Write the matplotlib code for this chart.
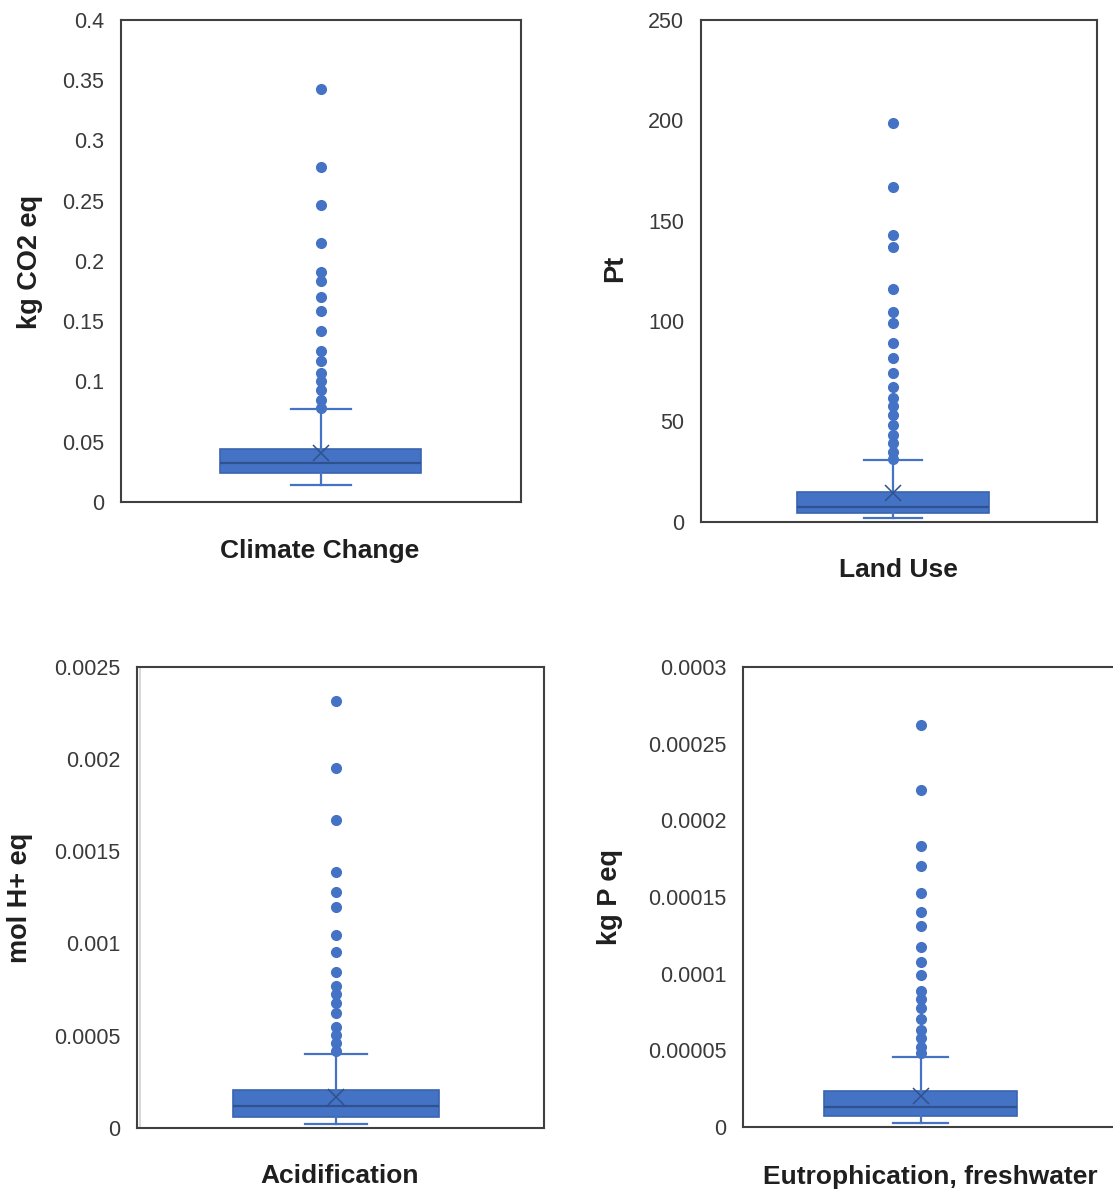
import matplotlib
matplotlib.use("Agg")
import matplotlib.pyplot as plt
from matplotlib.lines import Line2D

plt.rcParams['font.family'] = ['Liberation Sans', 'DejaVu Sans']

# ---- data: box statistics per impact category ----
categories = ["Climate Change", "Land Use", "Acidification", "Eutrophication, freshwater"]
units = ["kg CO2 eq", "Pt", "mol H+ eq", "kg P eq"]

cc_stats = dict(whislo=0.0141, q1=0.0238, med=0.0321, q3=0.0440, whishi=0.0772, mean=0.0404)
cc_fliers = [0.3425, 0.2778, 0.2462, 0.2147, 0.1906, 0.1837, 0.1699, 0.1588, 0.1419,
             0.1255, 0.1170, 0.1073, 0.1007, 0.0929, 0.0846, 0.0778]

lu_stats = dict(whislo=2.0, q1=4.5, med=7.5, q3=14.7, whishi=30.7, mean=14.2)
lu_fliers = [198.5, 166.6, 143.0, 137.0, 116.1, 104.5, 99.2, 89.2, 81.4, 74.2, 67.0,
             61.8, 57.7, 53.2, 48.2, 43.2, 39.1, 34.9, 31.1]

ac_stats = dict(whislo=0.0000201, q1=0.0000597, med=0.000118, q3=0.000205,
                whishi=0.000398, mean=0.000165)
ac_fliers = [0.002317, 0.001950, 0.001670, 0.001389, 0.001281, 0.001196, 0.001044,
             0.000955, 0.000847, 0.000769, 0.000726, 0.000678, 0.000624, 0.000548,
             0.000503, 0.000458, 0.000416]

eu_stats = dict(whislo=0.0000028, q1=0.0000074, med=0.0000128, q3=0.0000235,
                whishi=0.0000454, mean=0.0000202)
eu_fliers = [0.0002625, 0.0002196, 0.0001831, 0.0001703, 0.0001523, 0.0001403,
             0.0001310, 0.0001171, 0.0001077, 0.0000989, 0.0000888, 0.0000832,
             0.0000774, 0.0000702, 0.0000632, 0.0000578, 0.0000523, 0.0000480]

cc_ticks = ["0", "0.05", "0.1", "0.15", "0.2", "0.25", "0.3", "0.35", "0.4"]
lu_ticks = ["0", "50", "100", "150", "200", "250"]
ac_ticks = ["0", "0.0005", "0.001", "0.0015", "0.002", "0.0025"]
eu_ticks = ["0", "0.00005", "0.0001", "0.00015", "0.0002", "0.00025", "0.0003"]

# ---- layout (pixels) ----
W, H = 1113, 1193
BLUE = "#4472C4"
DARK_BLUE = "#2F528F"
FRAME = "#404040"

panels = [
    # stats, fliers, ticks, axes rect (l, t, r, b), box center, box width, cap width,
    # xlabel (x, y), ylabel (x, y)
    dict(stats=cc_stats, fliers=cc_fliers, ticks=cc_ticks, rect=(121, 20, 521, 502),
         c=320.5, bw=200.5, cw=60, xl=(320, 551), yl=(30, 262)),
    dict(stats=lu_stats, fliers=lu_fliers, ticks=lu_ticks, rect=(701, 20, 1097, 521.7),
         c=893, bw=192.6, cw=58.7, xl=(898, 570), yl=(615, 268)),
    dict(stats=ac_stats, fliers=ac_fliers, ticks=ac_ticks, rect=(137, 667, 544, 1127.7),
         c=335.7, bw=206, cw=61.7, xl=(340, 1176), yl=(20, 898)),
    dict(stats=eu_stats, fliers=eu_fliers, ticks=eu_ticks, rect=(743, 667, 1125, 1127),
         c=920.5, bw=192.4, cw=55, xl=(930, 1177), yl=(610, 897)),
]

fig = plt.figure(figsize=(W / 100, H / 100), dpi=100)

for i, p in enumerate(panels):
    l, t, r, b = p["rect"]
    ax = fig.add_axes([l / W, 1 - b / H, (r - l) / W, (b - t) / H])
    span = r - l
    f = (p["c"] - l) / span
    st = dict(p["stats"])
    st["fliers"] = p["fliers"]
    ax.bxp([st], positions=[1], widths=p["bw"] / span, capwidths=p["cw"] / span,
           showmeans=True, patch_artist=True,
           boxprops=dict(facecolor=BLUE, edgecolor="#3A64AE", linewidth=1.2),
           medianprops=dict(color=DARK_BLUE, linewidth=1.6),
           whiskerprops=dict(color=BLUE, linewidth=1.6),
           capprops=dict(color=BLUE, linewidth=1.6),
           meanprops=dict(marker="x", markersize=12, markeredgecolor=DARK_BLUE,
                          markeredgewidth=1.1),
           flierprops=dict(marker="o", markersize=7, markerfacecolor=BLUE,
                           markeredgecolor=BLUE, linestyle="none"))
    ax.set_xlim(1 - f, 2 - f)

    vals = [float(s) for s in p["ticks"]]
    ax.set_ylim(0, vals[-1])
    ax.set_yticks(vals)
    ax.set_yticklabels(p["ticks"])
    ax.set_xticks([])
    ax.tick_params(axis="y", length=0, pad=12, labelsize=15.5, labelcolor="#3a3a3a")
    for s in ax.spines.values():
        s.set_color(FRAME)
        s.set_linewidth(1.5)

    if i == 2:
        ax.add_line(Line2D([0.008, 0.008], [0, 1], transform=ax.transAxes,
                           color="#d0d0d0", linewidth=1.2))

    fig.text(p["xl"][0] / W, 1 - p["xl"][1] / H, categories[i], ha="center", va="center",
             fontsize=19, fontweight="bold", color="#1f1f1f")
    fig.text(p["yl"][0] / W, 1 - p["yl"][1] / H, units[i], ha="center", va="center",
             rotation=90, fontsize=19.5, fontweight="bold", color="#1f1f1f")

fig.savefig("out.png", dpi=100, facecolor="white")
